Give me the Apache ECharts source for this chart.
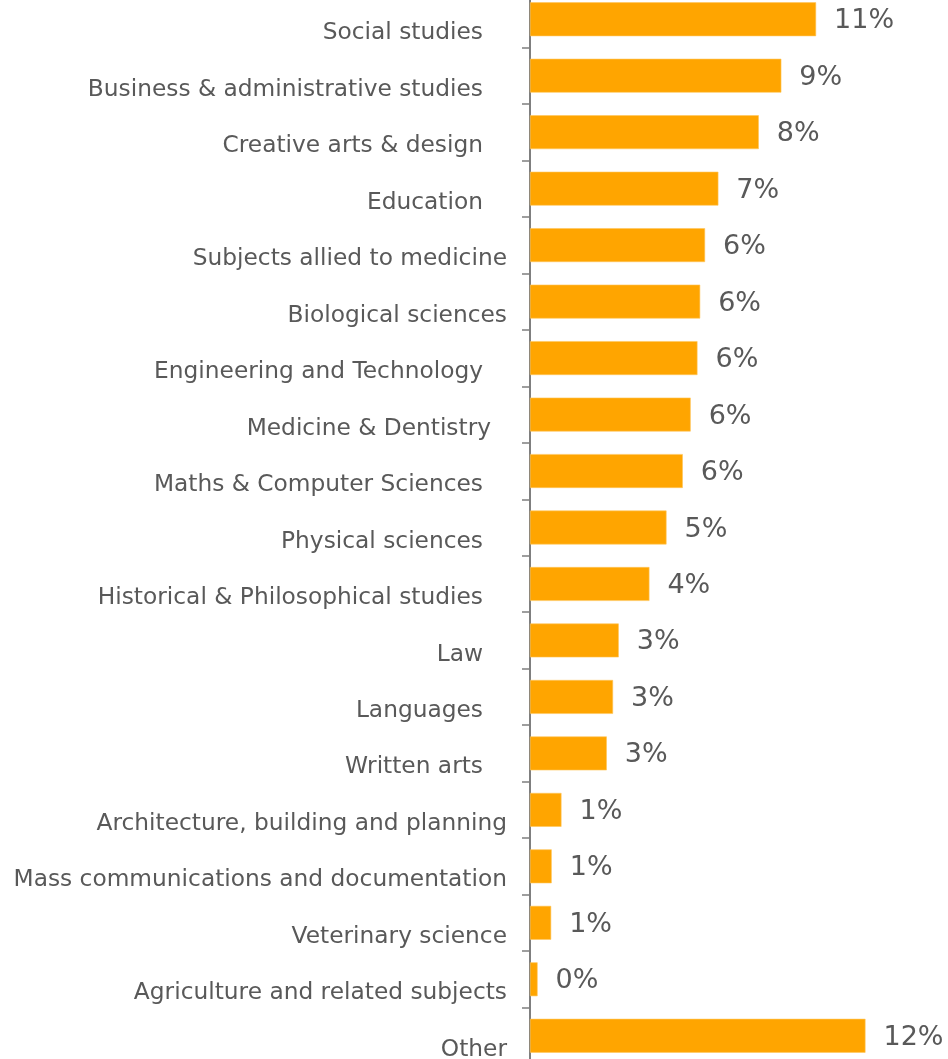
<!DOCTYPE html>
<html>
<head>
<meta charset="utf-8">
<script src="https://cdn.jsdelivr.net/npm/echarts@6/dist/echarts.min.js"></script>
<style>
  html, body { margin: 0; padding: 0; background: #ffffff; }
  #chart { width: 948px; height: 1059px; }
</style>
</head>
<body>
<div id="chart"></div>
<script>
// Subject areas, top to bottom
const subjects = [
  'Social studies',
  'Business & administrative studies',
  'Creative arts & design',
  'Education',
  'Subjects allied to medicine',
  'Biological sciences',
  'Engineering and Technology',
  'Medicine & Dentistry',
  'Maths & Computer Sciences',
  'Physical sciences',
  'Historical & Philosophical studies',
  'Law',
  'Languages',
  'Written arts',
  'Architecture, building and planning',
  'Mass communications and documentation',
  'Veterinary science',
  'Agriculture and related subjects',
  'Other'
];

// Share of total (%), shown rounded to whole percent
const shares = [
  10.54, 9.26, 8.43, 6.94, 6.45, 6.27, 6.17, 5.92, 5.63, 5.03,
  4.40, 3.27, 3.06, 2.83, 1.16, 0.80, 0.78, 0.28, 12.36
];

// Labels that sit closer to the axis line
const flushLabels = new Set([
  'Subjects allied to medicine',
  'Biological sciences',
  'Architecture, building and planning',
  'Mass communications and documentation',
  'Veterinary science',
  'Agriculture and related subjects',
  'Other'
]);
const midLabels = new Set(['Medicine & Dentistry']);

const chart = echarts.init(document.getElementById('chart'), null, { renderer: 'canvas' });

const textColor = '#595959';
const fontFamily = '"DejaVu Sans", Verdana, sans-serif';
const catSize = 23.3;

chart.setOption({
  animation: false,
  backgroundColor: '#ffffff',
  grid: {
    left: 530,
    width: 380,
    top: -9,
    bottom: -5,
    containLabel: false,
    outerBoundsMode: 'none'
  },
  xAxis: {
    type: 'value',
    min: 0,
    max: 14,
    show: false
  },
  yAxis: {
    type: 'category',
    inverse: true,
    data: subjects,
    axisLine: { show: true, lineStyle: { color: '#7f7f7f', width: 2 } },
    axisTick: { show: true, length: 8, lineStyle: { color: '#7f7f7f', width: 1.5 } },
    axisLabel: {
      margin: 23,
      color: textColor,
      fontFamily: fontFamily,
      fontSize: catSize,
      formatter: function (v) {
        if (flushLabels.has(v)) return '{f|' + v + '}';
        if (midLabels.has(v)) return '{m|' + v + '}';
        return '{n|' + v + '}';
      },
      rich: {
        f: { color: textColor, fontFamily: fontFamily, fontSize: catSize, padding: [28, 0, 0, 0] },
        m: { color: textColor, fontFamily: fontFamily, fontSize: catSize, padding: [28, 16, 0, 0] },
        n: { color: textColor, fontFamily: fontFamily, fontSize: catSize, padding: [28, 24, 0, 0] }
      }
    },
    splitLine: { show: false }
  },
  series: [{
    type: 'bar',
    data: shares,
    barCategoryGap: '40%',
    itemStyle: { color: '#FFA500', borderColor: '#FFC65A', borderWidth: 0.6 },
    label: {
      show: true,
      position: 'right',
      distance: 18,
      offset: [0, 2],
      color: textColor,
      fontFamily: fontFamily,
      fontSize: 27,
      formatter: function (p) { return Math.round(p.value) + '%'; }
    }
  }]
});
</script>
</body>
</html>
